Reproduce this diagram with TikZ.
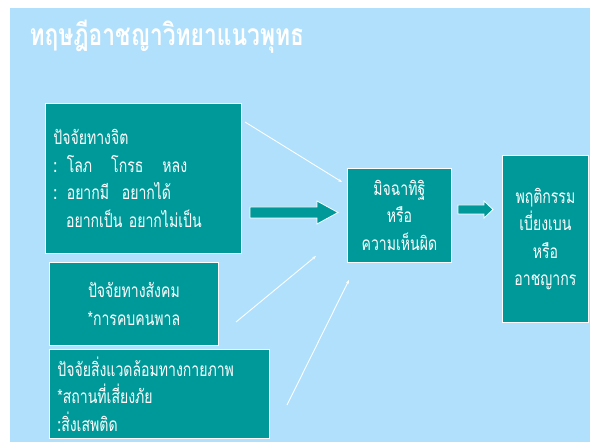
\documentclass[tikz,border=0pt]{standalone}
\usepackage{fontspec}
\newfontfamily\thaifont[Script=Thai,FakeStretch=0.74]{Loma}
\newfontfamily\thaititle[Script=Thai,FakeStretch=0.76]{Loma}
\usetikzlibrary{arrows.meta}
\definecolor{bgblue}{RGB}{176,224,252}
\definecolor{teal1}{RGB}{0,153,153}
\newcommand{\bcolon}{{\bfseries :}}
\tikzset{
  box/.style={draw=white, line width=0.8pt, fill=teal1, text=white, anchor=north west,
    inner sep=0pt, font=\thaifont\fontsize{19}{27.5}\selectfont},
  thin/.style={draw=white, line width=0.9pt, -{Stealth[length=4pt,width=3pt]}},
  blockarrow/.style={fill=teal1, draw=white, line width=0.8pt, line join=miter},
}
\begin{document}
\begin{tikzpicture}[x=1pt,y=-1pt]
\useasboundingbox (0,0) rectangle (590,443);
\fill[bgblue] (10,8) rectangle (590,442);
\node[anchor=base west, text=white, font=\thaititle\bfseries\fontsize{30}{34}\selectfont] (title) at (26,46) {ทฤษฎีอาชญาวิทยาแนวพุทธ};
% boxes
\node[box, minimum width=196pt, minimum height=150pt, align=left, text width=180pt] (mind) at (45,103)
  {ปัจจัยทางจิต\\\bcolon{} โลภ \ \ โกรธ \ \ หลง\\\bcolon{} อยากมี \ อยากได้\\{} \ \ อยากเป็น อยากไม่เป็น};
\node[box, minimum width=169pt, minimum height=83pt, align=center] (social) at (49,262)
  {ปัจจัยทางสังคม\\{*}การคบคนพาล};
\node[box, minimum width=220pt, minimum height=89pt, align=left, text width=204pt] (phys) at (49,349)
  {ปัจจัยสิ่งแวดล้อมทางกายภาพ\\{*}สถานที่เสี่ยงภัย\\\bcolon{}สิ่งเสพติด};
\node[box, minimum width=104pt, minimum height=94pt, align=center] (view) at (347,168)
  {มิจฉาทิฐิ\\หรือ\\ความเห็นผิด};
\node[box, minimum width=86pt, minimum height=167pt, align=center] (behav) at (502,155)
  {พฤติกรรม\\เบี่ยงเบน\\หรือ\\อาชญากร};
% block arrows
\draw[blockarrow] (250,207) -- (317,207) -- (317,201) -- (338,212.5) -- (317,224) -- (317,218) -- (250,218) -- cycle;
\draw[blockarrow] (458,205) -- (484,205) -- (484,201) -- (493,209.5) -- (484,218) -- (484,214) -- (458,214) -- cycle;
% thin arrows
\coordinate (a1) at (245,122); \coordinate (a2) at (342,182);
\coordinate (b1) at (236,322); \coordinate (b2) at (316,256);
\coordinate (c1) at (287,405); \coordinate (c2) at (349,280);
\draw[thin] (a1) -- (a2);
\draw[thin] (b1) -- (b2);
\draw[thin] (c1) -- (c2);
\end{tikzpicture}
\end{document}
